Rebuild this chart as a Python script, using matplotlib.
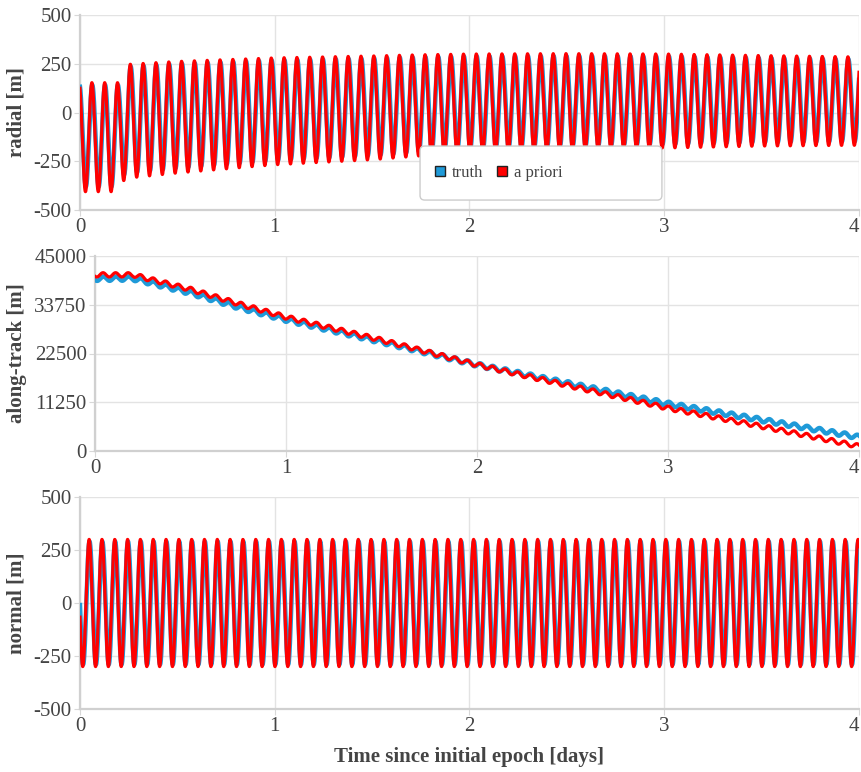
import numpy as np
import matplotlib.pyplot as plt
from matplotlib.lines import Line2D
from matplotlib.patches import FancyBboxPatch

plt.rcParams['font.family'] = ['Liberation Serif', 'DejaVu Serif']
plt.rcParams['axes.unicode_minus'] = False

# values
orbit_period = 0.0658          # days, one revolution (~15.2 per day)
x_ticks = [0, 1, 2, 3, 4]

# radial: peak / trough envelope at a few epochs
radial_days = [0, 0.2, 0.23, 0.5, 1.0, 1.5, 1.75, 2.0, 2.5, 3.0, 3.5, 4.0]
radial_apriori_peak = [153, 153, 246, 262, 280, 290, 296, 300, 302, 300, 292, 285]
radial_apriori_trough = [-406, -406, -338, -310, -268, -242, -222, -205, -190, -182, -172, -168]
radial_truth_peak = [141, 141, 234, 250, 268, 278, 284, 288, 290, 288, 280, 273]
radial_truth_trough = [-380, -380, -312, -285, -245, -220, -200, -184, -170, -162, -152, -148]
radial_first_peak = 0.061
radial_ticks = [-500, -250, 0, 250, 500]

# along-track: mean level at a few epochs plus the orbital wiggle
along_days = [0, 0.2, 0.3, 0.5, 0.75, 1.0, 1.5, 2.0, 2.5, 3.0, 3.5, 4.0]
along_apriori = [40650, 40650, 39500, 37300, 34000, 30900, 25600, 19900, 14900, 9900, 5600, 1100]
along_truth = [39750, 39800, 38700, 36500, 33200, 30300, 25200, 19900, 15400, 10900, 7100, 3200]
along_wiggle = 500
along_first_peak = 0.042
along_ticks = [0, 11250, 22500, 33750, 45000]

# normal: constant amplitude
normal_apriori_amp = 300
normal_truth_amp = 290
normal_first_peak = 0.047
normal_truth_lag = 0.002
normal_ticks = [-500, -250, 0, 250, 500]

blue = '#1f9ad8'
red = '#ff0000'

days = np.linspace(0, 4, 4001)


def wave(t0):
    return np.cos(2 * np.pi * (days - t0) / orbit_period)


def between(knots, hi, lo, t0):
    hi = np.interp(days, knots, hi)
    lo = np.interp(days, knots, lo)
    return (hi + lo) / 2 + (hi - lo) / 2 * wave(t0)


radial_truth = between(radial_days, radial_truth_peak, radial_truth_trough, radial_first_peak + 0.002)
radial_apriori = between(radial_days, radial_apriori_peak, radial_apriori_trough, radial_first_peak)
along_t = np.interp(days, along_days, along_truth) + along_wiggle * wave(along_first_peak + 0.002)
along_a = np.interp(days, along_days, along_apriori) + along_wiggle * wave(along_first_peak)
normal_truth = normal_truth_amp * wave(normal_first_peak + normal_truth_lag)
normal_apriori = normal_apriori_amp * wave(normal_first_peak)

W, H = 862, 772
fig = plt.figure(figsize=(W / 100, H / 100), dpi=100)
ax1 = fig.add_axes([80 / W, 1 - 210 / H, 779 / W, 195 / H])
ax2 = fig.add_axes([95 / W, 1 - 451 / H, 764 / W, 195 / H])
ax3 = fig.add_axes([80 / W, 1 - 709 / H, 779 / W, 212 / H])

panels = [
    (ax1, radial_truth, radial_apriori, radial_ticks, 'radial [m]', (27 - 80) / 779),
    (ax2, along_t, along_a, along_ticks, 'along-track [m]', (27 - 95) / 764),
    (ax3, normal_truth, normal_apriori, normal_ticks, 'normal [m]', (27 - 80) / 779),
]

for ax, truth, apriori, yt, label, lx in panels:
    ax.plot(days, truth, color=blue, lw=3.2, zorder=3)
    ax.plot(days, apriori, color=red, lw=2.3, zorder=4)
    ax.set_xlim(0, 4)
    ax.set_ylim(yt[0], yt[-1])
    ax.set_xticks(x_ticks)
    ax.set_yticks(yt)
    ax.grid(True, color='#e3e3e3', lw=1)
    ax.set_axisbelow(True)
    for s in ['top', 'right']:
        ax.spines[s].set_visible(False)
    for s in ['left', 'bottom']:
        ax.spines[s].set_color('#d0d0d0')
        ax.spines[s].set_linewidth(1.6)
    ax.tick_params(length=4, color='#d8d8d8', labelsize=15, labelcolor='#444444', pad=2)
    # keep the last day label inside the picture
    ax.get_xticklabels()[-1].set_horizontalalignment('right')
    ax.set_ylabel(label, fontsize=15, fontweight='bold', color='#444444')
    ax.yaxis.set_label_coords(lx, 0.5)

ax3.set_xlabel('Time since initial epoch [days]', fontsize=15, fontweight='bold', color='#444444')
ax3.xaxis.set_label_coords(0.5, (709 - 747) / 212)

# legend box inside the radial panel
box = FancyBboxPatch((0.4365, 0.051), 0.3105, 0.277, transform=ax1.transAxes,
                     boxstyle='round,pad=0,rounding_size=0.006', mutation_aspect=779 / 195,
                     facecolor='white', edgecolor='#cccccc', lw=1, zorder=5)
ax1.add_patch(box)
handles = [Line2D([], [], marker='s', ls='none', markersize=7, markerfacecolor=blue,
                  markeredgecolor='#222222', markeredgewidth=1, label='truth'),
           Line2D([], [], marker='s', ls='none', markersize=7, markerfacecolor=red,
                  markeredgecolor='#222222', markeredgewidth=1, label='a priori')]
leg = ax1.legend(handles=handles, loc='center left', bbox_to_anchor=(0.4545, 0.19),
                 ncol=2, frameon=False, fontsize=12, handlelength=0.7, handletextpad=0.35,
                 columnspacing=0.8, borderpad=0, borderaxespad=0, labelcolor='#444444')
leg.set_zorder(6)

fig.savefig('out.png', dpi=100)
